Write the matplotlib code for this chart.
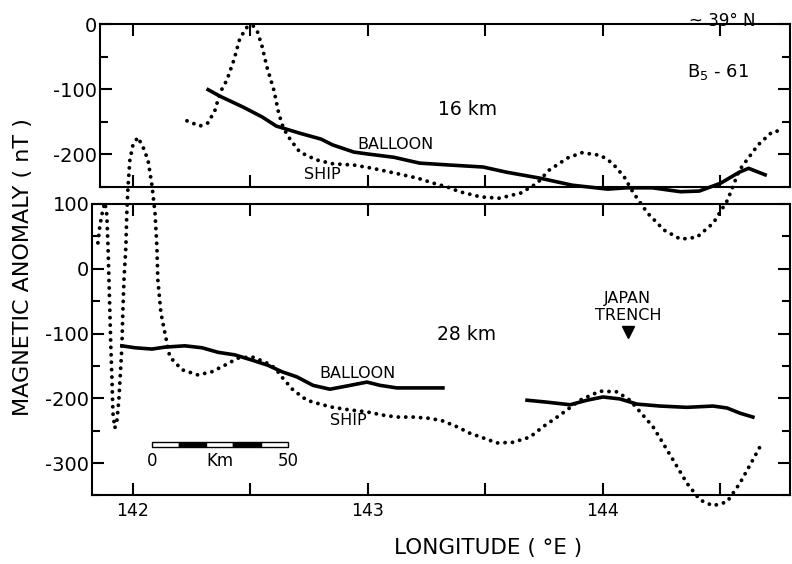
import matplotlib
matplotlib.use("Agg")
import matplotlib.pyplot as plt
from matplotlib.ticker import MultipleLocator, FuncFormatter
from matplotlib.patches import Rectangle

plt.rcParams['font.family'] = 'DejaVu Sans'
plt.rcParams['axes.unicode_minus'] = False

# === 16 km panel ===
up_balloon_lon = [142.32, 142.37, 142.47, 142.55, 142.61, 142.71, 142.80, 142.85, 142.94,
                  143.00, 143.11, 143.22, 143.35, 143.49, 143.59, 143.73, 143.87, 144.02,
                  144.10, 144.21, 144.33, 144.41, 144.50, 144.58, 144.62, 144.69]
up_balloon_nt = [-101, -111, -128, -143, -157, -168, -177, -186, -197,
                 -200, -205, -214, -217, -220, -228, -237, -248, -254,
                 -252, -252, -258, -257, -245, -228, -222, -232]

up_ship_lon = [142.23, 142.285, 142.32, 142.35, 142.37, 142.40, 142.43, 142.455, 142.485,
               142.51, 142.53, 142.55, 142.57, 142.60, 142.62, 142.64, 142.67, 142.71,
               142.78, 142.85, 142.94, 143.02, 143.11, 143.21, 143.28, 143.34, 143.39,
               143.48, 143.56, 143.65, 143.72, 143.77, 143.85, 143.91, 143.99, 144.04,
               144.09, 144.13, 144.19, 144.26, 144.33, 144.40, 144.47, 144.53, 144.58,
               144.66, 144.72, 144.77]
up_ship_nt = [-149, -157, -152, -132, -106, -86, -55, -22, -5,
              -2, -12, -35, -66, -102, -137, -160, -178, -197,
              -209, -215, -217, -222, -229, -237, -245, -251, -258,
              -266, -268, -260, -245, -225, -206, -198, -202, -214,
              -235, -260, -291, -317, -331, -328, -306, -271, -225,
              -186, -166, -163]

# === 28 km panel ===
lo_ship_lon = [141.851, 141.860, 141.872, 141.881, 141.889, 141.894, 141.898, 141.902,
               141.906, 141.911, 141.915, 141.923, 141.932, 141.940, 141.945, 141.953,
               141.957, 141.962, 141.970, 141.974, 141.979, 141.987, 142.000, 142.021,
               142.043, 142.064, 142.081, 142.094, 142.102, 142.106, 142.119, 142.136,
               142.157, 142.209, 142.277, 142.336, 142.391, 142.447, 142.506, 142.562,
               142.604, 142.638, 142.681, 142.740, 142.796, 142.851, 142.923, 142.996,
               143.064, 143.123, 143.191, 143.264, 143.319, 143.379, 143.434, 143.489,
               143.549, 143.617, 143.689, 143.745, 143.817, 143.902, 143.987, 144.060,
               144.115, 144.170, 144.213, 144.255, 144.298, 144.357, 144.413, 144.468,
               144.528, 144.583, 144.638, 144.668]
lo_ship_nt = [40, 68, 91, 102, 83, 34, -17, -68,
              -121, -172, -223, -246, -234, -203, -172, -121,
              -68, -17, 34, 86, 126, 168, 191, 203,
              188, 168, 129, 86, 34, -17, -68, -99,
              -136, -156, -164, -159, -149, -138, -136, -144,
              -153, -169, -187, -203, -209, -214, -218, -221,
              -226, -229, -229, -231, -235, -244, -254, -261,
              -269, -268, -260, -244, -226, -203, -189, -190,
              -203, -226, -244, -269, -295, -331, -357, -366,
              -360, -331, -295, -275]

lo_balloon1_lon = [141.953, 142.009, 142.081, 142.136, 142.221, 142.294, 142.362, 142.434,
                   142.506, 142.574, 142.634, 142.698, 142.766, 142.838, 142.911, 142.996,
                   143.051, 143.123, 143.221, 143.319]
lo_balloon1_nt = [-119, -122, -124, -121, -119, -122, -129, -133,
                  -141, -149, -159, -167, -180, -186, -181, -175,
                  -180, -184, -184, -184]

lo_balloon2_lon = [143.677, 143.762, 143.860, 143.932, 144.000, 144.072, 144.145, 144.243,
                   144.357, 144.468, 144.528, 144.583, 144.638]
lo_balloon2_nt = [-203, -206, -210, -203, -198, -201, -209, -212,
                  -214, -212, -215, -223, -229]

trench_lon = 144.106
trench_nt = -98

scale_km = [0, 10, 20, 30, 40, 50]
km_per_deg = 86.5          # one degree of longitude at ~39 N
bar_lon0 = 142.081

ship_style = dict(color='black', lw=2.8, linestyle=(0, (0.01, 1.9)),
                  dash_capstyle='round', clip_on=False)
balloon_style = dict(color='black', lw=2.6, clip_on=False)


def style(ax, ylo, yhi, xlo):
    ax.set_xlim(xlo, 144.796)
    ax.set_ylim(ylo, yhi)
    ax.patch.set_visible(False)
    for s in ax.spines.values():
        s.set_linewidth(1.5)
    ax.xaxis.set_major_locator(MultipleLocator(0.5))
    ax.xaxis.set_major_formatter(FuncFormatter(
        lambda v, p: f"{v:.0f}" if abs(v - round(v)) < 1e-6 else ""))
    ax.yaxis.set_major_locator(MultipleLocator(100))
    ax.yaxis.set_minor_locator(MultipleLocator(50))
    ax.tick_params(which='both', direction='in', top=True, right=True, width=1.5)
    ax.tick_params(axis='x', length=8.5, labelsize=12.5, pad=5)
    ax.tick_params(axis='y', which='major', length=8.5, labelsize=14, pad=2)
    ax.tick_params(axis='y', which='minor', length=6)


fig = plt.figure(figsize=(7.92, 5.64), dpi=100)
ax_up = fig.add_axes([0.1263, 0.6693, 0.8712, 0.2881])
ax_lo = fig.add_axes([0.1162, 0.1216, 0.8813, 0.5167])

style(ax_up, -250, 0, 141.860)
style(ax_lo, -350, 100, 141.826)
ax_up.tick_params(axis='x', labelbottom=False)

# === upper panel ===
ax_up.plot(up_ship_lon, up_ship_nt, **ship_style)
ax_up.plot(up_balloon_lon, up_balloon_nt, **balloon_style)
ax_up.text(143.426, -132, "16 km", fontsize=13.5, ha='center', va='center')
ax_up.text(143.119, -186, "BALLOON", fontsize=11.5, ha='center', va='center')
ax_up.text(142.804, -232, "SHIP", fontsize=11.5, ha='center', va='center')
ax_up.text(144.489, -74, "B$_5$ - 61", fontsize=13, ha='center', va='center')
ax_up.text(144.506, 4, "~ 39° N", fontsize=12, ha='center', va='center')

# === lower panel ===
ax_lo.plot(lo_ship_lon, lo_ship_nt, **ship_style)
ax_lo.plot(lo_balloon1_lon, lo_balloon1_nt, **balloon_style)
ax_lo.plot(lo_balloon2_lon, lo_balloon2_nt, **balloon_style)
ax_lo.plot([trench_lon], [trench_nt], marker='v', color='black', markersize=9)
ax_lo.text(trench_lon, -59, "JAPAN\nTRENCH", fontsize=11.5, ha='center', va='center',
           linespacing=1.1)
ax_lo.text(143.421, -102, "28 km", fontsize=13.5, ha='center', va='center')
ax_lo.text(142.957, -161, "BALLOON", fontsize=11.5, ha='center', va='center')
ax_lo.text(142.915, -235, "SHIP", fontsize=11.5, ha='center', va='center')

# scale bar
for i in range(len(scale_km) - 1):
    ax_lo.add_patch(Rectangle((bar_lon0 + scale_km[i] / km_per_deg, -275.3),
                              (scale_km[i + 1] - scale_km[i]) / km_per_deg, 7.7,
                              facecolor='white' if i % 2 == 0 else 'black',
                              edgecolor='black', lw=1))
ax_lo.text(bar_lon0, -297, "0", fontsize=12, ha='center', va='center')
ax_lo.text(bar_lon0 + 25 / km_per_deg, -297, "Km", fontsize=12, ha='center', va='center')
ax_lo.text(bar_lon0 + 50 / km_per_deg, -297, "50", fontsize=12, ha='center', va='center')

fig.text(23 / 792, 1 - 267 / 564, "MAGNETIC ANOMALY ( nT )", rotation=90,
         fontsize=16, ha='center', va='center')
fig.text(488 / 792, 1 - 548 / 564, "LONGITUDE ( °E )", fontsize=15.5,
         ha='center', va='center')

fig.savefig("out.png", dpi=100)
